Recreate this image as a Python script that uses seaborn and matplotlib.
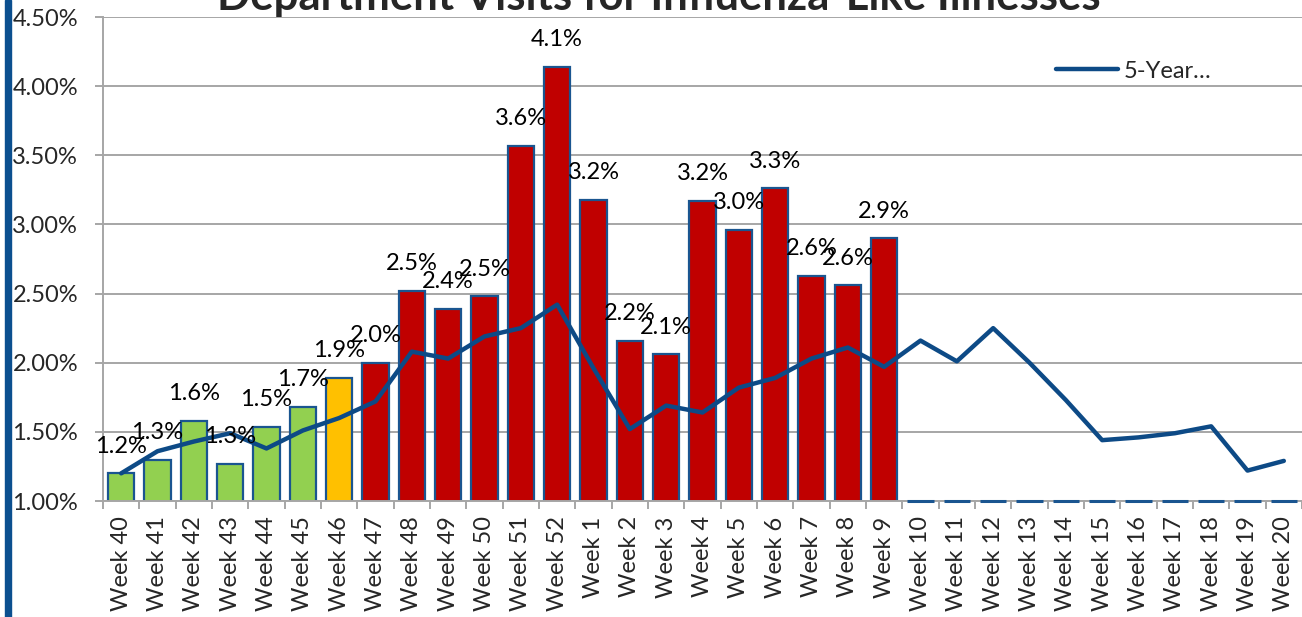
import matplotlib
matplotlib.use('Agg')
import matplotlib.pyplot as plt
from matplotlib.patches import Rectangle
from matplotlib.ticker import FormatStrFormatter, FixedLocator
import seaborn as sns
import pandas as pd
import numpy as np

# Week labels, flu season Week 40 through Week 20
weeks = ['Week 40', 'Week 41', 'Week 42', 'Week 43', 'Week 44', 'Week 45', 'Week 46',
         'Week 47', 'Week 48', 'Week 49', 'Week 50', 'Week 51', 'Week 52',
         'Week 1', 'Week 2', 'Week 3', 'Week 4', 'Week 5', 'Week 6', 'Week 7',
         'Week 8', 'Week 9', 'Week 10', 'Week 11', 'Week 12', 'Week 13', 'Week 14',
         'Week 15', 'Week 16', 'Week 17', 'Week 18', 'Week 19', 'Week 20']

# Percent of ED visits for ILI this season (weeks 10-20 not reported yet)
ili_pct = [1.20, 1.30, 1.58, 1.27, 1.535, 1.68, 1.89, 2.00, 2.52, 2.39, 2.48, 3.57, 4.14,
           3.18, 2.16, 2.06, 3.17, 2.96, 3.26, 2.63, 2.56, 2.90,
           0, 0, 0, 0, 0, 0, 0, 0, 0, 0, 0]

# Activity level for bar colouring
level = ['low'] * 6 + ['moderate'] + ['high'] * 15 + ['none'] * 11

# 5-year average
avg_5yr = [1.20, 1.36, 1.43, 1.49, 1.38, 1.51, 1.60, 1.72, 2.08, 2.03, 2.19, 2.25, 2.42,
           1.96, 1.52, 1.69, 1.64, 1.82, 1.89, 2.03, 2.11, 1.97,
           2.16, 2.01, 2.25, 2.00, 1.73, 1.44, 1.46, 1.49, 1.54, 1.22, 1.29]

level_colors = {'low': '#92d050', 'moderate': '#ffc000', 'high': '#c00000', 'none': '#ffffff'}
edge_blue = '#1a5590'
line_blue = '#0d4a86'
grid_gray = '#a6a6a6'

sns.set_theme(style='white')
plt.rcParams['font.family'] = ['Lato', 'DejaVu Sans']

df = pd.DataFrame({'week': weeks, 'pct': ili_pct, 'level': level})
df['shown'] = df['pct'].where(df['pct'] > 0)
pos = np.arange(len(weeks))
ymin, ymax = 1.0, 4.5

fig = plt.figure(figsize=(13.02, 6.17), dpi=100)
ax = fig.add_axes([103 / 1302, 1 - 501 / 617, 1199 / 1302, 484 / 617])

sns.barplot(data=df, x='week', y='shown', hue='week', order=weeks,
            palette=[level_colors[l] for l in level], legend=False, saturation=1,
            width=0.72, edgecolor=edge_blue, linewidth=1.6, ax=ax, zorder=2)

# empty weeks show as a flat outline on the baseline
empty = pos[df['pct'].values == 0]
ax.bar(empty, 0, bottom=ymin, width=0.72, edgecolor=edge_blue, linewidth=2.2,
       facecolor='none', clip_on=False, zorder=3)

sns.lineplot(x=pos, y=avg_5yr, color=line_blue, linewidth=3.2, ax=ax,
             label='5-Year\u2026', zorder=4)

for i, v in enumerate(ili_pct):
    if v > 0:
        ax.annotate(f'{v:.1f}%', (i, v), xytext=(0, 19.5), textcoords='offset points',
                    ha='center', va='center', fontsize=17, color='black', zorder=5)

ax.set_xlim(-0.5, len(weeks) - 0.5)
ax.set_ylim(ymin, ymax)
ax.set_yticks(np.arange(1.0, 4.51, 0.5))
ax.yaxis.set_major_formatter(FormatStrFormatter('%.2f%%'))
ax.set_xticks(pos)
ax.set_xticklabels(weeks, rotation=90)
ax.xaxis.set_minor_locator(FixedLocator(np.arange(-0.5, len(weeks), 1.0)))
ax.set_xlabel('')
ax.set_ylabel('')

ax.grid(axis='y', color=grid_gray, linewidth=1.4, zorder=0)
ax.set_axisbelow(True)
for side in ['top', 'right']:
    ax.spines[side].set_visible(False)
for side in ['left', 'bottom']:
    ax.spines[side].set_color(grid_gray)
    ax.spines[side].set_linewidth(1.4)

ax.tick_params(axis='y', which='major', left=True, length=6, width=1.4, color=grid_gray,
               labelsize=17, pad=12)
ax.tick_params(axis='x', which='major', bottom=False, length=0, labelsize=17, pad=11)
ax.tick_params(axis='x', which='minor', bottom=True, length=6, width=1.4, color=grid_gray)

ax.legend(loc='center left', bbox_to_anchor=(1035 / 1302, 1 - 71 / 617),
          bbox_transform=fig.transFigure, frameon=False, fontsize=17,
          handlelength=2.6, handletextpad=0.25)

fig.text(659 / 1302, 1 - 10 / 617, 'Department Visits for Influenza-Like Illnesses',
         ha='center', va='baseline', fontsize=31.5, fontweight='bold')

fig.add_artist(Rectangle((5 / 1302, 0), 6 / 1302, 1, transform=fig.transFigure,
                         color='#0b4f8f', zorder=10))

fig.savefig('out.png', dpi=100)
